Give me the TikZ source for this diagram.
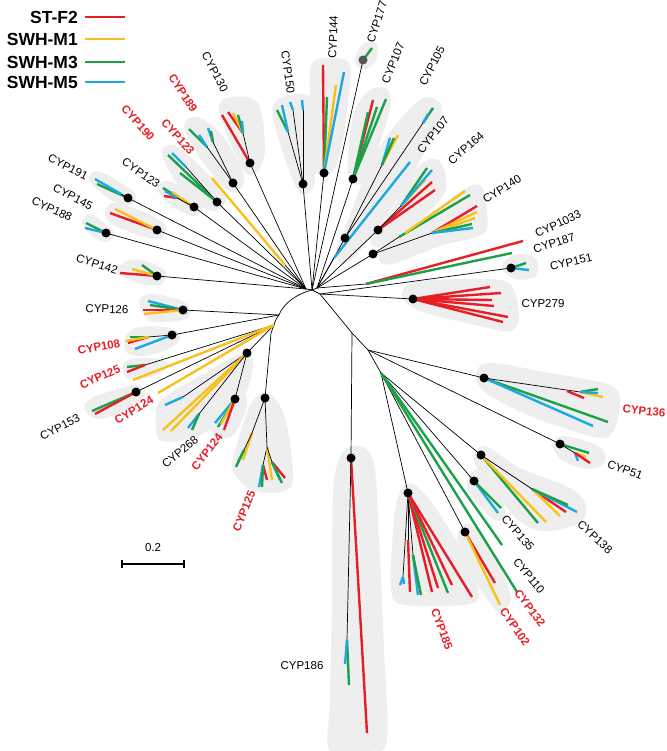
\documentclass[tikz,border=0pt]{standalone}
\usepackage{fontspec}
\setmainfont{Liberation Sans}
\definecolor{cR}{RGB}{230,30,38}
\definecolor{cY}{RGB}{247,192,28}
\definecolor{cG}{RGB}{28,160,72}
\definecolor{cC}{RGB}{28,168,224}
\definecolor{hullc}{RGB}{238,238,238}
\definecolor{dotg}{RGB}{85,85,85}
\tikzset{
  br/.style={draw=black,line width=0.7pt},
  lr/.style={draw=cR,line width=2.4pt},
  ly/.style={draw=cY,line width=2.4pt},
  lg/.style={draw=cG,line width=2.4pt},
  lc/.style={draw=cC,line width=2.4pt},
  dotn/.style={circle,fill=black,inner sep=0pt,minimum size=9pt},
  hull/.style={fill=hullc},
  lab/.style={inner sep=0pt,font=\fontsize{11.5}{13}\selectfont},
  labr/.style={inner sep=0pt,text=cR,font=\fontsize{11.5}{13}\selectfont\bfseries},
  legt/.style={inner sep=0pt,anchor=east,font=\fontsize{17.5}{19}\selectfont\bfseries},
}
\begin{document}
\begin{tikzpicture}[x=1pt,y=-1pt]
\useasboundingbox (0,0) rectangle (666,751);
% ---------- hulls
\begin{scope}[hull]
\fill plot[smooth cycle,tension=0.55] coordinates {(219,110) (232,97) (258,103) (265,150) (256,173) (242,168)};
\fill plot[smooth cycle,tension=0.55] coordinates {(184,126) (198,117) (222,135) (244,175) (236,192) (222,186) (200,158)};
\fill plot[smooth cycle,tension=0.55] coordinates {(162,153) (174,145) (200,166) (226,196) (216,211) (198,204) (176,182)};
\fill plot[smooth cycle,tension=0.55] coordinates {(157,189) (166,181) (190,191) (203,206) (194,216) (172,206)};
\fill plot[smooth cycle,tension=0.55] coordinates {(89,180) (97,171) (118,181) (136,195) (128,206) (108,198)};
\fill plot[smooth cycle,tension=0.55] coordinates {(105,213) (113,203) (142,211) (165,225) (160,239) (138,235) (112,224)};
\fill plot[smooth cycle,tension=0.55] coordinates {(82,222) (90,214) (106,224) (115,234) (106,242) (90,234)};
\fill plot[smooth cycle,tension=0.55] coordinates {(116,271) (130,260) (152,263) (166,273) (160,285) (138,283)};
\fill plot[smooth cycle,tension=0.55] coordinates {(139,302) (150,294) (180,300) (191,311) (182,320) (150,321)};
\fill plot[smooth cycle,tension=0.55] coordinates {(124,340) (135,328) (165,327) (180,334) (174,346) (146,356) (127,353)};
\fill plot[smooth cycle,tension=0.55] coordinates {(122,368) (131,359) (160,359) (168,366) (154,376) (130,379)};
\fill plot[smooth cycle,tension=0.55] coordinates {(84,408) (94,397) (134,385) (145,392) (136,405) (100,419)};
\fill plot[smooth cycle,tension=0.55] coordinates {(156,428) (160,401) (200,376) (240,354) (253,360) (246,393) (222,420) (194,438) (162,441)};
\fill plot[smooth cycle,tension=0.55] coordinates {(210,422) (224,396) (243,391) (247,407) (233,435) (216,438)};
\fill plot[smooth cycle,tension=0.55] coordinates {(234,455) (250,406) (268,393) (285,418) (293,478) (281,492) (252,490) (233,472)};
\fill plot[smooth cycle,tension=0.55] coordinates {(273,106) (286,96) (310,98) (316,140) (314,185) (301,194) (289,170) (276,130)};
\fill plot[smooth cycle,tension=0.55] coordinates {(311,66) (330,58) (348,62) (350,85) (341,150) (330,174) (315,170) (311,120)};
\fill plot[smooth cycle,tension=0.55] coordinates {(356,55) (364,43) (377,44) (376,60) (366,69) (356,65)};
\fill plot[smooth cycle,tension=0.55] coordinates {(352,120) (366,93) (386,88) (390,108) (374,160) (360,184) (348,175)};
\fill plot[smooth cycle,tension=0.55] coordinates {(336,252) (350,215) (372,160) (398,122) (423,98) (441,104) (437,126) (416,168) (394,205) (364,246) (345,264)};
\fill plot[smooth cycle,tension=0.55] coordinates {(371,240) (395,205) (418,167) (437,159) (446,178) (440,200) (396,242) (380,248)};
\fill plot[smooth cycle,tension=0.55] coordinates {(382,250) (420,224) (463,190) (481,186) (487,212) (483,234) (440,246) (396,263) (381,263)};
\fill plot[smooth cycle,tension=0.55] coordinates {(502,268) (509,257) (526,254) (538,262) (535,277) (514,279)};
\fill plot[smooth cycle,tension=0.55] coordinates {(402,297) (414,282) (480,279) (510,284) (519,315) (511,331) (480,326) (420,311)};
\fill plot[smooth cycle,tension=0.55] coordinates {(476,374) (490,363) (550,373) (610,385) (620,402) (613,432) (595,437) (530,416) (485,392)};
\fill plot[smooth cycle,tension=0.55] coordinates {(552,444) (565,436) (600,447) (605,462) (589,469) (563,461)};
\fill plot[smooth cycle,tension=0.55] coordinates {(474,459) (485,446) (520,468) (570,488) (586,505) (580,523) (545,531) (518,520) (484,478)};
\fill plot[smooth cycle,tension=0.55] coordinates {(467,480) (478,469) (495,488) (506,512) (498,521) (484,511) (469,492)};
\fill plot[smooth cycle,tension=0.55] coordinates {(457,536) (466,524) (482,534) (501,568) (511,600) (500,611) (489,602) (464,562)};
\fill plot[smooth cycle,tension=0.55] coordinates {(392,545) (397,500) (410,483) (432,503) (466,558) (479,594) (470,604) (440,606) (400,604) (391,590)};
\fill plot[smooth cycle,tension=0.55] coordinates {(334,480) (350,447) (373,460) (379,540) (384,650) (387,740) (370,751) (330,751) (330,700) (332,600)};
\end{scope}
% ---------- coordinates
\coordinate (H) at (312,290);
\coordinate (Hl) at (306,289);
\coordinate (Hr) at (317,288);
\coordinate (R) at (320,294);
\coordinate (B) at (279,315);
\coordinate (C) at (274,325);
\coordinate (G) at (271,333);
\coordinate (D) at (352,333);
\coordinate (E) at (368,350);
\coordinate (F) at (381,373);
\coordinate (n130) at (250,163);
\coordinate (n189) at (233,183);
\coordinate (n123r) at (217,202);
\coordinate (n123b) at (194,207);
\coordinate (n191) at (128,198);
\coordinate (n145) at (157,230);
\coordinate (n188) at (106,233);
\coordinate (n142) at (157,276);
\coordinate (n126) at (183,310);
\coordinate (n108) at (172,335);
\coordinate (n153) at (136,392);
\coordinate (n268) at (247,353);
\coordinate (n124) at (235,399);
\coordinate (n125l) at (265,398);
\coordinate (n150) at (303,184);
\coordinate (n144) at (324,173);
\coordinate (n177) at (363,60);
\coordinate (n107t) at (353,179);
\coordinate (n105) at (345,238);
\coordinate (n164) at (378,230);
\coordinate (n140) at (373,254);
\coordinate (n151) at (511,268);
\coordinate (n279) at (413,299);
\coordinate (n136) at (484,378);
\coordinate (n51) at (560,444);
\coordinate (n138) at (481,455);
\coordinate (n135b) at (474,481);
\coordinate (n102) at (465,532);
\coordinate (n185) at (408,493);
\coordinate (n186) at (351,458);
\coordinate (ys1) at (285,265);
\coordinate (cs1) at (334,258);
\coordinate (rg1) at (366,284);
% ---------- backbone
\draw[br] (Hl) -- (H) -- (Hr);
\draw[br] (H) -- (R) -- (D) -- (E) -- (F);
\draw[br] (H) .. controls (296,294) and (283,304) .. (B) .. controls (276,319) .. (C) -- (G);
\draw[br] (D) -- (n186);
\foreach \n in {n130,n189,n123r,n123b,n191,n145,n188,n142,ys1} \draw[br] (\n) -- (Hl);
\foreach \n in {n150,n144,n177} \draw[br] (\n) -- (H);
\foreach \n in {n107t,n105,n164,n140,cs1,rg1} \draw[br] (\n) -- (Hr);
\foreach \n in {n279,n151} \draw[br] (\n) -- (R);
\foreach \n in {n126,n108} \draw[br] (\n) -- (B);
\foreach \n in {n153,n268} \draw[br] (\n) -- (C);
\draw[br] (n268) -- (n124);
\draw[br] (G) -- (n125l);
\foreach \n in {n136,n51} \draw[br] (\n) -- (E);
\foreach \n in {n185,n102,n135b,n138} \draw[br] (\n) -- (F);
% ---------- leaves
% CYP130
\draw[lr] (n130) -- (222,115);
\draw[br] (n130) -- (243,133);
\draw[lr] (243,133) -- (228,112);
\draw[ly] (243,133) -- (233,113);
\draw[lg] (243,133) -- (238,115);
\draw[lc] (243,133) -- (242,121);
% CYP189
\draw[br] (n189) -- (207,147);
\draw[br] (n189) -- (213,142);
\draw[lg] (207,147) -- (189,129);
\draw[lc] (207,147) -- (199,135);
\draw[lc] (213,142) -- (208,128);
\draw[lg] (213,142) -- (211,131);
% CYP123 red
\draw[lg] (n123r) -- (168,155);
\draw[br] (n123r) -- (186,167);
\draw[lc] (186,167) -- (172,153);
\draw[lg] (n123r) -- (180,173);
% CYP123 black
\draw[lg] (n123b) -- (163,188);
\draw[ly] (n123b) -- (172,192);
\draw[br] (n123b) -- (177,198);
\draw[lr] (177,198) -- (164,196);
\draw[lc] (177,198) -- (165,191);
% CYP191
\draw[lg] (n191) -- (97,184);
\draw[br] (n191) -- (121,194);
\draw[lc] (121,194) -- (95,179);
% CYP145
\draw[lr] (n145) -- (110,213);
\draw[ly] (n145) -- (115,209);
% CYP188
\draw[lg] (n188) -- (86,223);
\draw[lc] (n188) -- (85,228);
% yellow single
\draw[ly] (ys1) -- (212,178);
% CYP142
\draw[lr] (n142) -- (120,273);
\draw[ly] (n142) -- (132,269);
\draw[lg] (n142) -- (142,265);
% CYP126
\draw[lc] (n126) -- (148,301);
\draw[lg] (n126) -- (150,305);
\draw[lr] (n126) -- (143,310);
\draw[ly] (n126) -- (144,314);
% CYP108
\draw[br] (n108) -- (148,337);
\draw[lg] (148,337) -- (130,337);
\draw[lr] (148,337) -- (128,343);
\draw[ly] (148,337) -- (126,341);
\draw[lc] (n108) -- (135,349);
% CYP125 upper
\draw[br] (C) -- (145,365);
\draw[lg] (145,365) -- (127,367);
\draw[lr] (145,365) -- (127,372);
\draw[ly] (C) -- (133,380);
\draw[ly] (C) -- (158,393);
% CYP153
\draw[lg] (n153) -- (92,411);
\draw[lr] (n153) -- (95,414);
% CYP268
\draw[br] (n268) -- (183,397);
\draw[lc] (183,397) -- (165,405);
\draw[ly] (n268) -- (163,430);
\draw[ly] (n268) -- (171,431);
\draw[br] (n268) -- (199,414);
\draw[lc] (199,414) -- (188,428);
\draw[lg] (199,414) -- (192,430);
% CYP124 lower
\draw[lc] (n124) -- (215,423);
\draw[lg] (n124) -- (218,427);
\draw[ly] (n124) -- (221,424);
\draw[lr] (n124) -- (224,430);
% CYP125 lower
\draw[br] (n125l) -- (252,433);
\draw[ly] (252,433) -- (243,460);
\draw[br] (252,433) -- (244,450);
\draw[lc] (244,450) -- (238,462);
\draw[lg] (244,450) -- (236,467);
\draw[br] (n125l) -- (267,447);
\draw[br] (267,447) -- (263,465);
\draw[lr] (263,465) -- (267,480);
\draw[lc] (263,465) -- (259,487);
\draw[lg] (263,465) -- (262,487);
\draw[ly] (267,447) -- (272,480);
\draw[br] (267,447) -- (272,462);
\draw[lr] (272,462) -- (285,478);
\draw[lc] (272,462) -- (280,480);
\draw[lg] (272,462) -- (282,483);
% CYP150
\draw[br] (n150) -- (288,132);
\draw[lg] (288,132) -- (277,110);
\draw[lc] (288,132) -- (282,105);
\draw[br] (n150) -- (293,110);
\draw[lc] (293,110) -- (290,102);
\draw[br] (n150) -- (303,110);
\draw[lc] (303,110) -- (302,100);
% CYP144
\draw[lr] (n144) -- (323,65);
\draw[lg] (n144) -- (327,97);
\draw[ly] (n144) -- (336,85);
\draw[lc] (n144) -- (344,72);
% CYP177
\draw[lg] (n177) -- (372,48);
% CYP107 top
\draw[lr] (n107t) -- (373,100);
\draw[lg] (n107t) -- (377,107);
\draw[lg] (n107t) -- (386,99);
\draw[lg] (n107t) -- (368,112);
% CYP105 / CYP107 right
\draw[br] (n105) -- (423,123);
\draw[lg] (423,123) -- (433,108);
\draw[lc] (423,123) -- (428,114);
\draw[br] (n105) -- (382,165);
\draw[ly] (382,165) -- (398,135);
\draw[lc] (382,165) -- (390,138);
\draw[lg] (382,165) -- (394,138);
\draw[lc] (cs1) -- (410,162);
% CYP164
\draw[lr] (n164) -- (435,190);
\draw[lr] (n164) -- (432,182);
\draw[br] (n164) -- (401,206);
\draw[ly] (401,206) -- (425,180);
\draw[lg] (401,206) -- (427,168);
\draw[lc] (401,206) -- (432,170);
% CYP140
\draw[br] (n140) -- (399,237);
\draw[lg] (399,237) -- (470,195);
\draw[ly] (405,233) -- (465,191);
\draw[br] (n140) -- (432,233);
\draw[ly] (432,233) -- (475,218);
\draw[lr] (432,233) -- (477,206);
\draw[ly] (432,233) -- (477,212);
\draw[lg] (432,233) -- (472,224);
\draw[lc] (432,233) -- (473,228);
% CYP1033 / CYP187
\draw[lr] (rg1) -- (523,241);
\draw[lg] (rg1) -- (512,253);
% CYP151
\draw[lg] (n151) -- (526,263);
\draw[lc] (n151) -- (529,270);
% CYP279
\foreach \p in {(490,287),(501,293),(492,300),(494,306),(508,317),(503,322)} \draw[lr] (n279) -- \p;
% CYP136
\draw[lg] (n136) -- (608,422);
\draw[lc] (n136) -- (593,426);
\draw[br] (n136) -- (580,392);
\draw[lr] (567,391) -- (584,398);
\draw[ly] (580,392) -- (603,397);
\draw[lg] (580,392) -- (598,389);
\draw[lc] (580,392) -- (598,393);
% CYP51
\draw[lg] (n51) -- (589,453);
\draw[br] (n51) -- (575,453);
\draw[ly] (575,453) -- (586,457);
\draw[lc] (575,453) -- (578,461);
\draw[lr] (575,453) -- (590,463);
% CYP138
\draw[lg] (n138) -- (538,523);
\draw[ly] (n138) -- (546,522);
\draw[br] (n138) -- (532,489);
\draw[lr] (532,489) -- (566,512);
\draw[ly] (532,489) -- (560,516);
\draw[lc] (532,489) -- (577,512);
\draw[lg] (532,489) -- (568,505);
% CYP135 cluster
\draw[lc] (n135b) -- (498,513);
\draw[lg] (n135b) -- (501,508);
% green singles
\draw[lg] (F) -- (502,545);
\draw[lg] (F) -- (517,592);
% CYP102 / CYP132
\draw[lr] (n102) -- (495,583);
\draw[ly] (n102) -- (500,605);
% CYP185
\draw[br] (n185) -- (403,577);
\draw[lc] (403,577) -- (400,585);
\draw[lc] (403,577) -- (404,584);
\draw[br] (n185) -- (408,540);
\draw[lr] (408,540) -- (410,592);
\draw[br] (n185) -- (413,555);
\draw[lc] (413,555) -- (418,595);
\draw[lg] (413,555) -- (421,595);
\draw[lr] (n185) -- (432,592);
\draw[lr] (n185) -- (438,588);
\draw[lg] (n185) -- (448,593);
\draw[lr] (n185) -- (452,585);
\draw[lr] (n185) -- (472,597);
% CYP186
\draw[lr] (n186) -- (367,733);
\draw[br] (n186) -- (347,640);
\draw[lg] (347,640) -- (349,685);
\draw[lc] (347,640) -- (345,664);
% ---------- dots
\foreach \n in {n130,n189,n123r,n123b,n191,n145,n188,n142,n126,n108,n153,n268,n124,n125l,n150,n144,n107t,n105,n164,n140,n151,n279,n136,n51,n138,n135b,n102,n185,n186}
  \node[dotn] (d\n) at (\n) {};
\node[dotn,fill=dotg] (dn177) at (n177) {};
% ---------- labels
\node[lab,rotate=-62] (l130) at (215,72) {CYP130};
\node[labr,rotate=-57] (l189) at (183,93) {CYP189};
\node[labr,rotate=-48] (l190) at (138,123) {CYP190};
\node[labr,rotate=-48] (l123r) at (178,137) {CYP123};
\node[lab,rotate=-35] (l123b) at (141,173) {CYP123};
\node[lab,rotate=-27] (l191) at (68,167) {CYP191};
\node[lab,rotate=-28] (l145) at (73,197) {CYP145};
\node[lab,rotate=-25] (l188) at (52,209) {CYP188};
\node[lab,rotate=-18] (l142) at (97,264) {CYP142};
\node[lab,rotate=-2] (l126) at (107,309) {CYP126};
\node[labr,rotate=11] (l108) at (99,347) {CYP108};
\node[labr,rotate=24] (l125u) at (100,377) {CYP125};
\node[labr,rotate=31] (l124u) at (134,410) {CYP124};
\node[lab,rotate=27] (l153) at (60,427) {CYP153};
\node[lab,rotate=40] (l268) at (180,452) {CYP268};
\node[labr,rotate=52] (l124l) at (207,452) {CYP124};
\node[labr,rotate=68] (l125l) at (244,511) {CYP125};
\node[lab] (l186) at (302,666) {CYP186};
\node[labr,rotate=-70] (l185) at (442,629) {CYP185};
\node[labr,rotate=-55] (l102) at (515,627) {CYP102};
\node[labr,rotate=-53] (l132) at (530,608) {CYP132};
\node[lab,rotate=-51] (l110) at (529,576) {CYP110};
\node[lab,rotate=-49] (l135) at (518,533) {CYP135};
\node[lab,rotate=-43] (l138) at (595,537) {CYP138};
\node[lab,rotate=-20] (l51) at (625,470) {CYP51};
\node[labr,rotate=-6] (l136) at (644,411) {CYP136};
\node[lab] (l279) at (543,304) {CYP279};
\node[lab,rotate=13] (l151) at (571,262) {CYP151};
\node[lab,rotate=18] (l187) at (554,243) {CYP187};
\node[lab,rotate=25] (l1033) at (558,224) {CYP1033};
\node[lab,rotate=33] (l140) at (502,189) {CYP140};
\node[lab,rotate=41] (l164) at (466,148) {CYP164};
\node[lab,rotate=51] (l107r) at (433,135) {CYP107};
\node[lab,rotate=63] (l105) at (432,66) {CYP105};
\node[lab,rotate=68] (l107t) at (393,63) {CYP107};
\node[lab,rotate=72] (l177) at (377,22) {CYP177};
\node[lab,rotate=88] (l144) at (333,37) {CYP144};
\node[lab,rotate=-82] (l150) at (288,72) {CYP150};
% ---------- scale bar
\coordinate (sb1) at (122,564);
\coordinate (sb2) at (184,564);
\draw[line width=1.2pt] (sb1) -- (sb2);
\draw[line width=1.2pt] ([yshift=-4pt]sb1) -- ([yshift=4pt]sb1);
\draw[line width=1.2pt] ([yshift=-4pt]sb2) -- ([yshift=4pt]sb2);
\node[lab] (sbl) at (153,548) {0.2};
% ---------- legend
\node[legt] (t1) at (78,17) {ST-F2};
\node[legt] (t2) at (78,39) {SWH-M1};
\node[legt] (t3) at (78,62) {SWH-M3};
\node[legt] (t4) at (78,82) {SWH-M5};
\draw[lr] ([xshift=7pt]t1.east) -- ++(40,0);
\draw[ly] ([xshift=7pt]t2.east) -- ++(40,0);
\draw[lg] ([xshift=7pt]t3.east) -- ++(40,0);
\draw[lc] ([xshift=7pt]t4.east) -- ++(40,0);
\end{tikzpicture}
\end{document}
